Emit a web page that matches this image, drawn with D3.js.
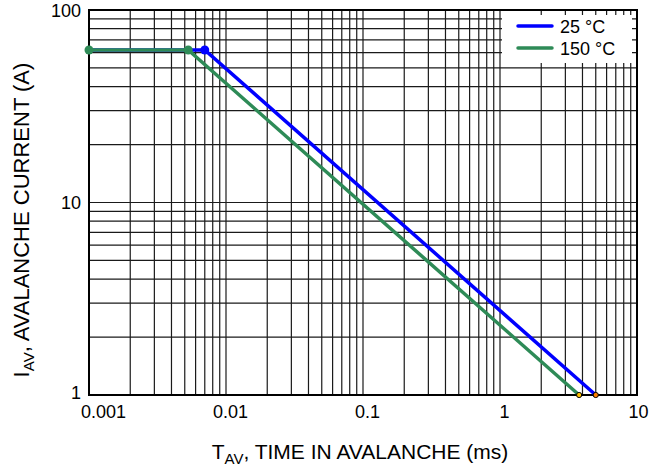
<!DOCTYPE html>
<html>
<head>
<meta charset="utf-8">
<script src="https://cdn.jsdelivr.net/npm/d3@7"></script>
<style>
  html, body { margin: 0; padding: 0; background: #fff; }
  svg { display: block; font-family: "Liberation Sans", Arial, sans-serif; }
</style>
</head>
<body>
<svg id="chart" width="660" height="470"></svg>
<script>
// ---- data ----
const xTickValues = [0.001, 0.01, 0.1, 1, 10];
const xTickLabels = ["0.001", "0.01", "0.1", "1", "10"];
const yTickValues = [1, 10, 100];
const yTickLabels = ["1", "10", "100"];

const seriesNames = ["25 °C", "150 °C"];
const seriesColors = ["#0000ff", "#2e8b57"];
const time25 = [0.001, 0.0070, 5.0];     // ms
const current25 = [62, 62, 1];           // A
const time150 = [0.001, 0.0053, 3.78];   // ms
const current150 = [62, 62, 1];          // A

// ---- layout ----
const svg = d3.select("#chart");
const pLeft = 89, pRight = 637, pTop = 10, pBottom = 395;

const x = d3.scaleLog().domain([0.001, 10]).range([pLeft, pRight]);
const y = d3.scaleLog().domain([1, 100]).range([pBottom, pTop]);

// grid values
const xGrid = [];
for (let e = -3; e < 1; e++) for (let m = 1; m <= 9; m++) xGrid.push(m * Math.pow(10, e));
xGrid.push(10);
const yGrid = [];
for (let e = 0; e < 2; e++) for (let m = 1; m <= 9; m++) yGrid.push(m * Math.pow(10, e));
yGrid.push(100);

const grid = svg.append("g");
grid.selectAll("line.vx").data(xGrid).enter().append("line")
  .attr("x1", d => x(d)).attr("x2", d => x(d))
  .attr("y1", pTop).attr("y2", pBottom)
  .attr("stroke", "#1a1a1a").attr("stroke-width", 1.2);
grid.selectAll("line.hy").data(yGrid).enter().append("line")
  .attr("y1", d => y(d)).attr("y2", d => y(d))
  .attr("x1", pLeft).attr("x2", pRight)
  .attr("stroke", "#1a1a1a").attr("stroke-width", 1.2);

// frame
svg.append("rect").attr("x", pLeft).attr("y", pTop)
  .attr("width", pRight - pLeft).attr("height", pBottom - pTop)
  .attr("fill", "none").attr("stroke", "#000").attr("stroke-width", 2);

// axes (labels only)
const xAxis = d3.axisBottom(x).tickValues(xTickValues)
  .tickFormat((d, i) => xTickLabels[i]).tickSize(0).tickPadding(0);
const gx = svg.append("g").attr("transform", `translate(0,${pBottom})`).call(xAxis);
gx.select(".domain").remove();
gx.selectAll("text").attr("font-size", 18).attr("font-family", "Liberation Sans, Arial, sans-serif")
  .attr("fill", "#000").attr("y", 10).attr("dy", "0.71em")
  .attr("dx", (d, i) => i === 0 ? 14 : (i === 4 ? 1 : 4));

const yAxis = d3.axisLeft(y).tickValues(yTickValues)
  .tickFormat((d, i) => yTickLabels[i]).tickSize(0).tickPadding(8);
const gy = svg.append("g").attr("transform", `translate(${pLeft},0)`).call(yAxis);
gy.select(".domain").remove();
gy.selectAll("text").attr("font-size", 18).attr("font-family", "Liberation Sans, Arial, sans-serif")
  .attr("fill", "#000").attr("dy", "0.34em");
gy.selectAll(".tick").filter(d => d === 1).select("text").attr("dy", "0.2em");

// series
const line = d3.line().x(d => x(d[0])).y(d => y(d[1]));
const s25 = time25.map((t, i) => [t, current25[i]]);
const s150 = time150.map((t, i) => [t, current150[i]]);

svg.append("path").datum(s25).attr("d", line)
  .attr("fill", "none").attr("stroke", seriesColors[0]).attr("stroke-width", 3.5);
svg.append("circle").attr("cx", x(s25[1][0])).attr("cy", y(s25[1][1])).attr("r", 4.5)
  .attr("fill", seriesColors[0]);

svg.append("path").datum(s150).attr("d", line)
  .attr("fill", "none").attr("stroke", seriesColors[1]).attr("stroke-width", 3.5);
svg.selectAll("circle.g150").data([s150[0], s150[1]]).enter().append("circle")
  .attr("cx", d => x(d[0])).attr("cy", d => y(d[1])).attr("r", 4.5)
  .attr("fill", seriesColors[1]);

// end markers
svg.append("circle").attr("cx", x(s150[2][0])).attr("cy", y(s150[2][1])).attr("r", 2.6)
  .attr("fill", "#ffc000").attr("stroke", "#000").attr("stroke-width", 1);
svg.append("circle").attr("cx", x(s25[2][0])).attr("cy", y(s25[2][1])).attr("r", 2.6)
  .attr("fill", "#ff7f00").attr("stroke", "#000").attr("stroke-width", 1);

// legend
const lg = svg.append("g");
lg.append("rect").attr("x", 502).attr("y", 15).attr("width", 130).attr("height", 48).attr("fill", "#fff");
seriesNames.forEach((n, i) => {
  const yy = 26 + i * 22;
  lg.append("line").attr("x1", 518).attr("x2", 552).attr("y1", yy).attr("y2", yy)
    .attr("stroke", seriesColors[i]).attr("stroke-width", 3.5).attr("stroke-linecap", "round");
  lg.append("text").attr("x", 560).attr("y", yy + 6.5).attr("font-size", 18).text(n);
});

// axis titles
const xt = svg.append("text").attr("x", 360).attr("y", 459)
  .attr("text-anchor", "middle").attr("font-size", 21);
xt.append("tspan").text("T");
xt.append("tspan").attr("font-size", 15).attr("dy", 5).text("AV");
xt.append("tspan").attr("dy", -5).text(", TIME IN AVALANCHE (ms)");

const yt = svg.append("text").attr("transform", `translate(29,220) rotate(-90)`)
  .attr("text-anchor", "middle").attr("font-size", 22);
yt.append("tspan").text("I");
yt.append("tspan").attr("font-size", 15).attr("dy", 5).text("AV");
yt.append("tspan").attr("dy", -5).text(", AVALANCHE CURRENT (A)");
</script>
</body>
</html>
